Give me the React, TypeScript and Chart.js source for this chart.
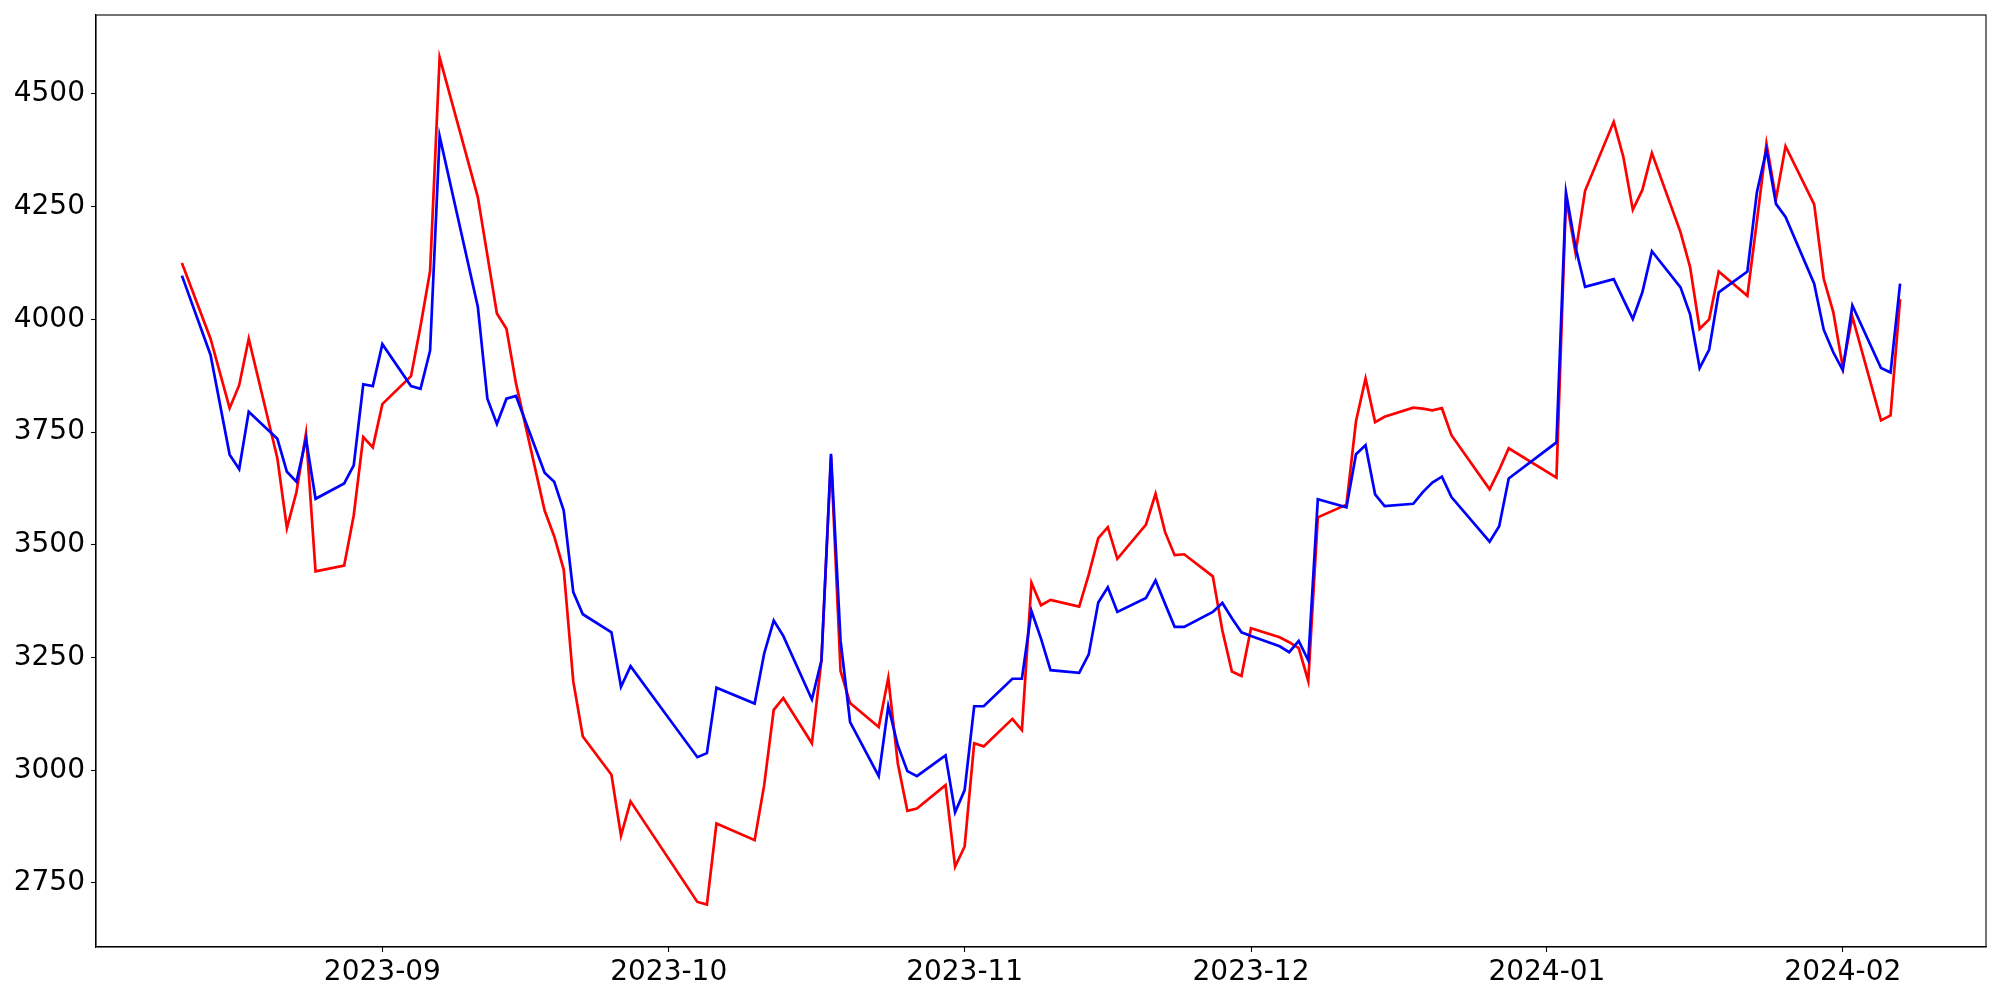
import React, { useEffect, useRef } from "react";
import { Chart, registerables } from "chart.js";

Chart.register(...registerables);

const dates: string[] = [
  "2023-08-11", "2023-08-14", "2023-08-16", "2023-08-17", "2023-08-18",
  "2023-08-21", "2023-08-22", "2023-08-23", "2023-08-24", "2023-08-25",
  "2023-08-28", "2023-08-29", "2023-08-30", "2023-08-31", "2023-09-01",
  "2023-09-04", "2023-09-05", "2023-09-06", "2023-09-07", "2023-09-11",
  "2023-09-12", "2023-09-13", "2023-09-14", "2023-09-15", "2023-09-18",
  "2023-09-19", "2023-09-20", "2023-09-21", "2023-09-22", "2023-09-25",
  "2023-09-26", "2023-09-27", "2023-10-04", "2023-10-05", "2023-10-06",
  "2023-10-10", "2023-10-11", "2023-10-12", "2023-10-13", "2023-10-16",
  "2023-10-17", "2023-10-18", "2023-10-19", "2023-10-20", "2023-10-23",
  "2023-10-24", "2023-10-25", "2023-10-26", "2023-10-27", "2023-10-30",
  "2023-10-31", "2023-11-01", "2023-11-02", "2023-11-03", "2023-11-06",
  "2023-11-07", "2023-11-08", "2023-11-09", "2023-11-10", "2023-11-13",
  "2023-11-14", "2023-11-15", "2023-11-16", "2023-11-17", "2023-11-20",
  "2023-11-21", "2023-11-22", "2023-11-23", "2023-11-24", "2023-11-27",
  "2023-11-28", "2023-11-29", "2023-11-30", "2023-12-01", "2023-12-04",
  "2023-12-05", "2023-12-06", "2023-12-07", "2023-12-08", "2023-12-11",
  "2023-12-12", "2023-12-13", "2023-12-14", "2023-12-15", "2023-12-18",
  "2023-12-19", "2023-12-20", "2023-12-21", "2023-12-22", "2023-12-26",
  "2023-12-27", "2023-12-28", "2024-01-02", "2024-01-03", "2024-01-04",
  "2024-01-05", "2024-01-08", "2024-01-09", "2024-01-10", "2024-01-11",
  "2024-01-12", "2024-01-15", "2024-01-16", "2024-01-17", "2024-01-18",
  "2024-01-19", "2024-01-22", "2024-01-23", "2024-01-24", "2024-01-25",
  "2024-01-26", "2024-01-29", "2024-01-30", "2024-01-31", "2024-02-01",
  "2024-02-02", "2024-02-05", "2024-02-06", "2024-02-07",
];

const redValues: number[] = [
  4125, 3957, 3803, 3854, 3957,
  3692, 3537, 3617, 3747, 3441,
  3454, 3565, 3739, 3716, 3812,
  3874, 3985, 4107, 4581, 4271,
  4142, 4013, 3979, 3858, 3576,
  3519, 3445, 3197, 3075, 2990,
  2855, 2931, 2708, 2702, 2882,
  2845, 2967, 3134, 3160, 3060,
  3244, 3695, 3220, 3149, 3096,
  3205, 3015, 2910, 2915, 2967,
  2786, 2831, 3060, 3053, 3114,
  3089, 3416, 3366, 3378, 3363,
  3434, 3515, 3539, 3469, 3545,
  3613, 3528, 3477, 3479, 3430,
  3310, 3219, 3209, 3315, 3295,
  3284, 3271, 3198, 3561, 3589,
  3774, 3869, 3772, 3784, 3804,
  3802, 3798, 3803, 3743, 3623,
  3666, 3714, 3649, 4270, 4147,
  4285, 4438, 4361, 4243, 4287,
  4369, 4193, 4116, 3979, 4000,
  4106, 4052, 4218, 4390, 4267,
  4384, 4255, 4090, 4016, 3894,
  4006, 3776, 3787, 4045,
];

const blueValues: number[] = [
  4097, 3921, 3700, 3668, 3795,
  3735, 3662, 3640, 3735, 3602,
  3636, 3676, 3856, 3852, 3945,
  3852, 3846, 3931, 4406, 4028,
  3824, 3768, 3824, 3830, 3660,
  3640, 3576, 3395, 3346, 3306,
  3185, 3231, 3029, 3038, 3183,
  3148, 3259, 3332, 3298, 3157,
  3244, 3702, 3288, 3107, 2987,
  3142, 3055, 2998, 2987, 3033,
  2907, 2956, 3142, 3142, 3203,
  3203, 3353, 3292, 3222, 3216,
  3257, 3372, 3406, 3351, 3382,
  3421, 3369, 3318, 3318, 3351,
  3371, 3337, 3306, 3298, 3275,
  3262, 3287, 3244, 3601, 3583,
  3701, 3721, 3612, 3586, 3591,
  3617, 3638, 3651, 3606, 3507,
  3541, 3647, 3727, 4281, 4160,
  4072, 4089, 4045, 4001, 4060,
  4151, 4071, 4011, 3892, 3933,
  4060, 4106, 4282, 4376, 4256,
  4227, 4079, 3977, 3927, 3887,
  4031, 3892, 3882, 4079,
];

const yTickValues: number[] = [2750, 3000, 3250, 3500, 3750, 4000, 4250, 4500];
const xTickLabels: string[] = ["2023-09", "2023-10", "2023-11", "2023-12", "2024-01", "2024-02"];

const toDay = (s: string): number => {
  const [y, m, d] = s.split("-").map(Number);
  return Date.UTC(y, m - 1, d || 1) / 86400000;
};

const FONT = { family: "'DejaVu Sans', sans-serif", size: 28 };

const frameBox = {
  id: "frameBox",
  afterDraw(chart: any) {
    const { ctx, chartArea } = chart;
    ctx.save();
    ctx.strokeStyle = "#000000";
    ctx.lineWidth = 1.1;
    ctx.strokeRect(chartArea.left, chartArea.top, chartArea.right - chartArea.left, chartArea.bottom - chartArea.top);
    ctx.restore();
  },
};

export default function App() {
  const ref = useRef<HTMLCanvasElement | null>(null);

  useEffect(() => {
    if (!ref.current) return;
    const xs = dates.map(toDay);
    const xMinD = Math.min(...xs);
    const xMaxD = Math.max(...xs);
    const xm = (xMaxD - xMinD) * 0.05;
    const all = [...redValues, ...blueValues];
    const yMinD = Math.min(...all);
    const yMaxD = Math.max(...all);
    const ym = (yMaxD - yMinD) * 0.05;

    const chart = new Chart(ref.current, {
      type: "line",
      data: {
        datasets: [
          {
            label: "blue",
            data: xs.map((x, i) => ({ x, y: blueValues[i] })),
            borderColor: "#0000ff",
            borderWidth: 2.7,
            pointRadius: 0,
            tension: 0,
            fill: false,
          },
          {
            label: "red",
            data: xs.map((x, i) => ({ x, y: redValues[i] })),
            borderColor: "#ff0000",
            borderWidth: 2.7,
            pointRadius: 0,
            tension: 0,
            fill: false,
          },
        ],
      },
      options: {
        responsive: false,
        animation: false,
        devicePixelRatio: 1,
        layout: { padding: { top: 15, right: 14, left: 0, bottom: 0 } },
        plugins: {
          legend: { display: false },
          tooltip: { enabled: false },
          title: { display: false },
        },
        scales: {
          x: {
            type: "linear",
            min: xMinD - xm,
            max: xMaxD + xm,
            afterBuildTicks: (scale: any) => {
              scale.ticks = xTickLabels.map((l) => ({ value: toDay(l + "-01") }));
            },
            afterFit: (scale: any) => {
              scale.height = 53;
              scale.paddingLeft = 0;
              scale.paddingRight = 0;
            },
            ticks: {
              autoSkip: false,
              maxRotation: 0,
              minRotation: 0,
              color: "#000000",
              font: FONT,
              padding: 4,
              callback: (_v: any, i: number) => xTickLabels[i],
            },
            grid: {
              display: true,
              drawOnChartArea: false,
              drawTicks: true,
              tickLength: 5,
              tickWidth: 1.1,
              tickColor: "#000000",
            },
            border: { display: true, color: "#000000", width: 1.1 },
          },
          y: {
            type: "linear",
            min: yMinD - ym,
            max: yMaxD + ym,
            afterBuildTicks: (scale: any) => {
              scale.ticks = yTickValues.map((v) => ({ value: v }));
            },
            afterFit: (scale: any) => {
              scale.width = 96;
              scale.paddingTop = 0;
              scale.paddingBottom = 0;
            },
            ticks: {
              autoSkip: false,
              color: "#000000",
              font: FONT,
              padding: 6,
              callback: (v: any) => String(v),
            },
            grid: {
              display: true,
              drawOnChartArea: false,
              drawTicks: true,
              tickLength: 5,
              tickWidth: 1.1,
              tickColor: "#000000",
            },
            border: { display: true, color: "#000000", width: 1.1 },
          },
        },
      },
      plugins: [frameBox],
    } as any);

    return () => chart.destroy();
  }, []);

  return (
    <div style={{ position: "absolute", left: 0, top: 0, width: 2000, height: 1000, background: "#ffffff" }}>
      <canvas ref={ref} width={2000} height={1000} style={{ display: "block", width: 2000, height: 1000 }} />
    </div>
  );
}
